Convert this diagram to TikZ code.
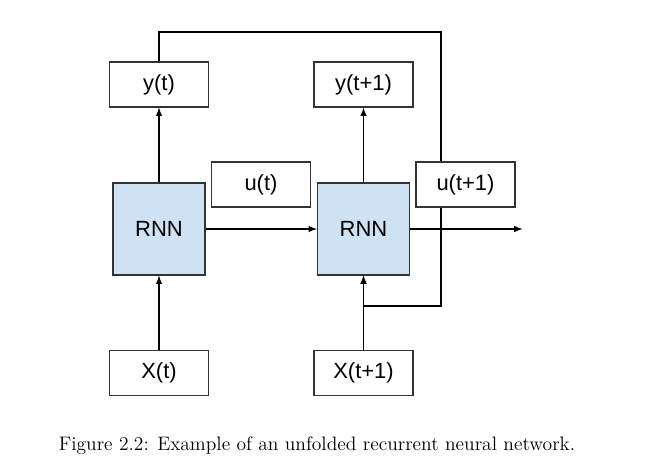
\documentclass[tikz,border=0pt]{standalone}
\usepackage{fontspec}
\setsansfont{Liberation Sans}
\usepackage{tikz}
\usetikzlibrary{arrows}

\definecolor{rnnblue}{HTML}{CFE2F3}
\definecolor{boxline}{HTML}{333333}

\begin{document}
\begin{tikzpicture}
    % Define styles for blocks and arrows
    \tikzstyle{valblock} = [rectangle, draw=boxline, line width=0.65pt, fill=white, minimum width=1.98cm, minimum height=0.9cm, inner sep=0pt, font=\sffamily\fontsize{12.5}{15}\selectfont]
    \tikzstyle{rnnblock} = [rectangle, draw=boxline, line width=0.65pt, fill=rnnblue, minimum width=1.84cm, minimum height=1.84cm, inner sep=0pt, font=\sffamily\fontsize{12.5}{15}\selectfont]
    \tikzstyle{arrow} = [line width=0.65pt,->,>=latex]

    \useasboundingbox (-3.18,-4.88) rectangle (9.92,4.58);

    % Nodes
    \node (rnn1) [rnnblock] at (0,0) {RNN};
    \node (rnn2) [rnnblock, right of=rnn1, node distance=4.09cm] {RNN};
    \node (yt) [valblock, above of=rnn1, node distance=2.89cm] {y(t)};
    \node (yt1) [valblock, above of=rnn2, node distance=2.89cm] {y(t+1)};
    \node (ut) [valblock, right of=rnn1, node distance=2.04cm, yshift=0.89cm] {u(t)};
    \node (xt) [valblock, below of=rnn1, node distance=2.88cm] {X(t)};
    \node (xt1) [valblock, below of=rnn2, node distance=2.88cm] {X(t+1)};
    \coordinate (loopturn) at ([xshift=1.55cm, yshift=3.94cm]rnn2.center);
    \coordinate (loopback) at ([yshift=-1.54cm]rnn2.center);
    \coordinate (rnnout) at ([xshift=2.25cm]rnn2.east);

    % Arrows
    \draw [arrow] (rnn1) -- (yt);
    \draw [arrow] (rnn2) -- (yt1);
    \draw [arrow] (xt) -- (rnn1);
    \draw [arrow] (xt1) -- (rnn2);
    \draw [arrow] (rnn1) -- (rnn2);
    \draw [arrow] (rnn2) -- (rnnout);
    \draw [arrow] (yt.north) |- (loopturn) |- (loopback) -- (rnn2.south);

    % drawn last so that it covers the loop line
    \node (ut1) [valblock, right of=rnn2, node distance=2.04cm, yshift=0.89cm] {u(t+1)};

    % Caption
    \node (caption) at (3.16,-4.34) {\fontsize{11.1}{13}\selectfont Figure 2.2: Example of an unfolded recurrent neural network.};

\end{tikzpicture}
\end{document}
